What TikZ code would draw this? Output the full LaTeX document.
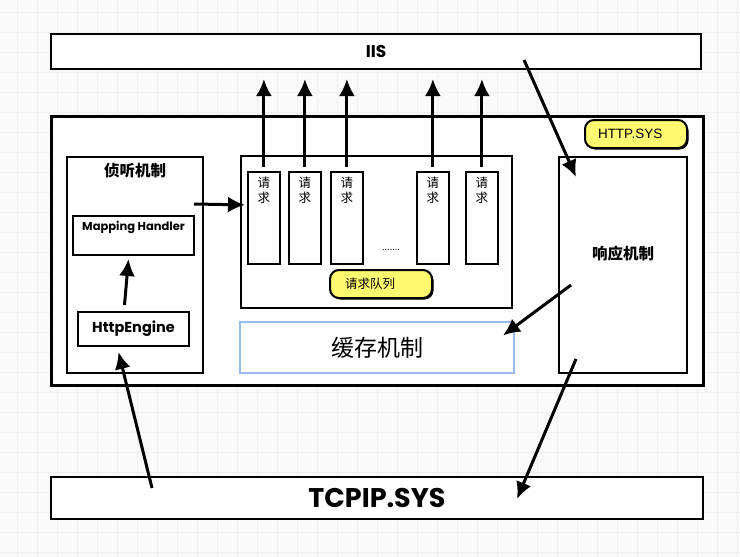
\documentclass[tikz,border=0pt]{standalone}
\usepackage{fontspec}
\setmainfont{Noto Sans CJK SC}
\newfontfamily\sketchfont{Poppins}
\newfontfamily\arialfont{Liberation Sans}
\usetikzlibrary{arrows.meta,positioning,calc,shadows}
\definecolor{bgpaper}{HTML}{FAFAFA}
\definecolor{gridgray}{HTML}{F0F0F0}
\definecolor{tagyellow}{HTML}{FFFA70}
\definecolor{cacheblue}{HTML}{99BBEE}

\begin{document}
\begin{tikzpicture}[x=1pt,y=-1pt,
	box/.style={draw, line width=2pt, fill=white, anchor=north west, inner sep=0pt},
	reqbox/.style={box, line width=1.8pt, minimum width=32pt, minimum height=92pt},
	reqtext/.style={inner sep=0pt, align=center, font=\fontsize{12.5}{15}\selectfont},
	tag/.style={draw, line width=2pt, fill=tagyellow, rounded corners=9pt, inner xsep=0pt, text width=102pt, align=left, minimum height=28pt, drop shadow={shadow xshift=1.5pt, shadow yshift=-1.5pt, fill=black, opacity=1}},
	title/.style={inner sep=0pt, font=\bfseries\fontsize{15.5}{17}\selectfont},
	flow/.style={-{Latex[length=17pt,width=16pt]}, line width=3pt}]

	\useasboundingbox (0,0) rectangle (740,557);
	\fill[bgpaper] (0,0) rectangle (740,557);
	\foreach \gx in {17,37,...,737} \draw[gridgray, line width=1pt] (\gx,0) -- (\gx,557);
	\foreach \gy in {12,32,...,552} \draw[gridgray, line width=1pt] (0,\gy) -- (740,\gy);

	% top and bottom layers
	\node[box, minimum width=650pt, minimum height=35pt, font=\sketchfont\bfseries\fontsize{17}{19}\selectfont] (iis) at (50,33) {IIS};
	\node[box, minimum width=652pt, minimum height=42pt, font=\sketchfont\bfseries\fontsize{27}{30}\selectfont] (tcpip) at (50,476) {TCPIP.SYS};

	% http.sys
	\node[box, line width=2.5pt, minimum width=652pt, minimum height=269pt] (httpsys) at (50,115) {};
	\node[tag, font=\arialfont\fontsize{13.5}{15}\selectfont] (httpsystag) at (636,134) {\hspace*{13pt}HTTP.SYS};

	% listening
	\node[box, minimum width=136pt, minimum height=216pt] (listen) at (66,156) {};
	\node[title] (listenlbl) [below=7pt of listen.north] {侦听机制};
	\node[box, minimum width=121pt, minimum height=39pt] (mapping) at (72,215) {};
	\node[inner sep=0pt, font=\sketchfont\bfseries\fontsize{11.5}{13}\selectfont] (mappinglbl) [below=6pt of mapping.north] {Mapping Handler};
	\node[box, minimum width=111pt, minimum height=34pt, font=\sketchfont\bfseries\fontsize{14.5}{16}\selectfont] (engine) at (77,311) {HttpEngine};

	% request queue
	\node[box, minimum width=271pt, minimum height=152pt] (queue) at (240,155) {};
	\foreach \i/\rx in {1/247,2/288,3/330,4/416,5/465} {
		\node[reqbox] (req\i) at (\rx,171) {};
		\node[reqtext] (reqlbl\i) [below=6pt of req\i.north] {请\\求};
		\draw[flow] ([shift={(0,-4)}]req\i.north) -- ($(req\i.north |- iis.south)+(0,9)$);
	}
	\node[inner sep=0pt, font=\fontsize{9}{10}\selectfont] (dots) at (391,250) {.......};
	\node[tag, font=\fontsize{12.5}{15}\selectfont] (queuetag) at (381,284) {\hspace*{15pt}请求队列};

	% cache
	\node[box, draw=cacheblue, minimum width=274pt, minimum height=51pt, font=\fontsize{23}{26}\selectfont] (cache) at (239,321) {缓存机制};

	% response
	\node[box, minimum width=128pt, minimum height=216pt] (respond) at (558,156) {};
	\node[title] (resplbl) at ([shift={(0,-11)}]respond.center) {响应机制};

	\draw[flow] ([shift={(-9,-6)}]engine.north) -- ([shift={(-5,3)}]mapping.south);
	\draw[flow] ([shift={(102,12)}]tcpip.north west) -- ([shift={(-15,5)}]engine.south);
	\draw[flow] ([shift={(-10,48)}]listen.north east) -- ([shift={(-2,-13)}]req1.west);
	\draw[flow] ([shift={(148,-10)}]iis.south) -- ([shift={(18,21)}]respond.north west);
	\draw[flow] ([shift={(13,20)}]respond.west) -- ([shift={(-12,-12)}]cache.east);
	\draw[flow] ([shift={(18,-15)}]respond.south west) -- ([shift={(140,23)}]tcpip.north);

\end{tikzpicture}
\end{document}
